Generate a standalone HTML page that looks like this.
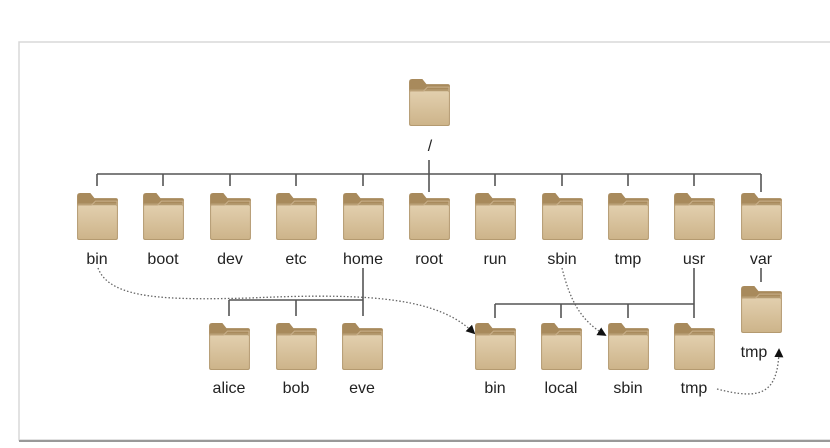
<!DOCTYPE html>
<html><head><meta charset="utf-8"><style>
html,body{margin:0;padding:0;background:#fff;width:830px;height:448px;overflow:hidden}
svg text{font-family:"Liberation Sans",sans-serif;font-size:16px;fill:#222;text-anchor:middle}
</style></head><body>
<svg width="830" height="448" viewBox="0 0 830 448">
<defs>
<linearGradient id="g" x1="0" y1="0" x2="0" y2="1">
<stop offset="0" stop-color="#e2cfae"/><stop offset="1" stop-color="#cdb48a"/></linearGradient>
<symbol id="f" viewBox="0 0 40 46">
<path d="M0 3 Q0 0 3 0 L13 0 L17 5 L38 5 Q40 5 40 7 L40 12 L0 12 Z" fill="#a88a5c"/>
<rect x="0" y="10" width="40" height="36" rx="2" fill="#b49a70"/>
<rect x="1" y="12" width="38" height="33" rx="1.5" fill="url(#g)"/>
<path d="M1 12 L14 12 L18 8 L39 8 L39 12" fill="none" stroke="#c9b08a" stroke-width="1"/>
</symbol>
<marker id="a" viewBox="0 0 10 10" refX="8" refY="5" markerWidth="7" markerHeight="7" orient="auto"><path d="M0 0 L10 5 L0 10 Z" fill="#111"/></marker>
</defs>
<rect x="19" y="42" width="820" height="398" fill="#fff" stroke="#d8d8d8" stroke-width="1.5"/>
<line x1="19" y1="441" x2="830" y2="441" stroke="#999" stroke-width="2"/>
<g stroke="#555" stroke-width="1.6" fill="none">
<line x1="97" y1="174" x2="761" y2="174"/>
<line x1="429" y1="160" x2="429" y2="192"/>
<line x1="97" y1="174" x2="97" y2="186"/><line x1="163" y1="174" x2="163" y2="186"/>
<line x1="230" y1="174" x2="230" y2="186"/><line x1="296" y1="174" x2="296" y2="186"/>
<line x1="363" y1="174" x2="363" y2="186"/><line x1="495" y1="174" x2="495" y2="186"/>
<line x1="562" y1="174" x2="562" y2="186"/><line x1="628" y1="174" x2="628" y2="186"/>
<line x1="694" y1="174" x2="694" y2="186"/><line x1="761" y1="174" x2="761" y2="192"/>
<line x1="363" y1="268" x2="363" y2="316"/>
<line x1="229" y1="300" x2="363" y2="300"/>
<line x1="229" y1="300" x2="229" y2="316"/><line x1="296" y1="300" x2="296" y2="316"/>
<line x1="694" y1="268" x2="694" y2="318"/>
<line x1="495" y1="304" x2="694" y2="304"/>
<line x1="495" y1="304" x2="495" y2="318"/><line x1="561" y1="304" x2="561" y2="318"/>
<line x1="628" y1="304" x2="628" y2="318"/>
<line x1="761" y1="268" x2="761" y2="282"/>
</g>
<g stroke="#666" stroke-width="1.3" fill="none" stroke-dasharray="1.5 2">
<path d="M98 268 C110 300 170 300 250 298 C380 292 440 300 474 333" marker-end="url(#a)"/>
<path d="M562 268 C570 300 580 320 605 335" marker-end="url(#a)"/>
<path d="M717 389 C760 400 778 395 779 350" marker-end="url(#a)"/>
</g>
<use href="#f" x="409" y="79" width="41" height="47"/>
<use href="#f" x="77" y="193" width="41" height="47"/>
<use href="#f" x="143" y="193" width="41" height="47"/>
<use href="#f" x="210" y="193" width="41" height="47"/>
<use href="#f" x="276" y="193" width="41" height="47"/>
<use href="#f" x="343" y="193" width="41" height="47"/>
<use href="#f" x="409" y="193" width="41" height="47"/>
<use href="#f" x="475" y="193" width="41" height="47"/>
<use href="#f" x="542" y="193" width="41" height="47"/>
<use href="#f" x="608" y="193" width="41" height="47"/>
<use href="#f" x="674" y="193" width="41" height="47"/>
<use href="#f" x="741" y="193" width="41" height="47"/>
<use href="#f" x="209" y="323" width="41" height="47"/>
<use href="#f" x="276" y="323" width="41" height="47"/>
<use href="#f" x="342" y="323" width="41" height="47"/>
<use href="#f" x="475" y="323" width="41" height="47"/>
<use href="#f" x="541" y="323" width="41" height="47"/>
<use href="#f" x="608" y="323" width="41" height="47"/>
<use href="#f" x="674" y="323" width="41" height="47"/>
<use href="#f" x="741" y="286" width="41" height="47"/>
<text x="430" y="151" font-size="20">/</text>
<text x="97" y="264">bin</text><text x="163" y="264">boot</text><text x="230" y="264">dev</text>
<text x="296" y="264">etc</text><text x="363" y="264">home</text><text x="429" y="264">root</text>
<text x="495" y="264">run</text><text x="562" y="264">sbin</text><text x="628" y="264">tmp</text>
<text x="694" y="264">usr</text><text x="761" y="264">var</text>
<text x="229" y="393">alice</text><text x="296" y="393">bob</text><text x="362" y="393">eve</text>
<text x="495" y="393">bin</text><text x="561" y="393">local</text><text x="628" y="393">sbin</text>
<text x="694" y="393">tmp</text><text x="754" y="357">tmp</text>
</svg>
</body></html>
